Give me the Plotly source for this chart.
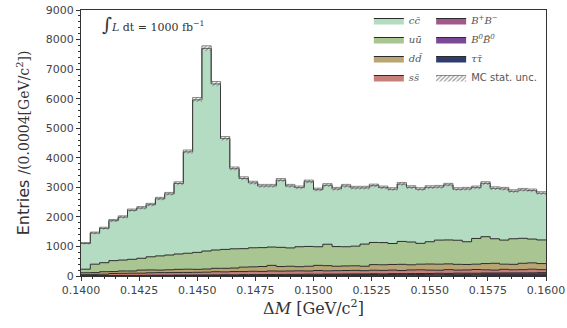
import numpy as np
import plotly.graph_objects as go

# ---------------- data ----------------
bin_lo, bin_w, n_bins = 0.1400, 0.0004, 50

tautau = [2,3,4,3,5,6,5,7,8,7,9,10,9,11,12,13,11,14,15,13,16,17,16,18,19,17,20,21,22,20,
          23,24,22,25,26,27,24,28,29,27,30,31,29,32,33,34,31,35,34,36]
b0b0 = [4,5,5,6,7,6,8,9,8,10,11,10,12,13,12,14,15,16,14,17,18,16,19,20,21,19,22,23,21,24,
        25,26,23,27,28,26,29,30,31,28,32,33,30,34,35,33,36,37,35,38]
bpbm = [5,6,6,7,8,9,8,10,11,10,12,13,14,12,15,16,14,17,18,19,17,20,21,19,22,23,24,21,25,26,
        24,27,28,29,26,30,31,28,32,33,34,31,35,36,33,37,38,35,39,40]
ssbar = [34,41,45,69,70,74,74,84,88,88,88,87,90,94,106,97,110,103,113,106,119,112,114,118,108,
         126,109,115,117,120,108,118,117,119,105,122,126,114,103,127,104,110,126,108,99,121,105,108,122,101]
ddbar = [65,60,85,65,80,75,105,95,85,95,105,110,100,105,115,120,120,150,150,165,190,155,160,140,160,
         175,175,150,155,155,150,190,190,190,210,175,190,205,205,195,195,185,180,210,230,175,185,215,215,205]
uubar = [120,285,305,370,370,395,400,445,480,500,520,540,575,610,620,640,650,625,645,640,620,650,620,675,670,
         630,725,665,650,665,750,750,750,710,775,770,705,755,815,810,815,770,870,910,830,815,865,845,805,800]
ccbar = [870,1050,1160,1350,1450,1655,1700,1760,1930,2065,2385,3430,5160,6855,5620,3750,2710,2375,2195,2085,
         2065,2270,2095,2000,2190,1930,1995,1950,2055,1970,1900,1920,1860,1835,1940,1850,1830,1840,1795,1860,
         1725,1785,1720,1805,1705,1730,1605,1635,1640,1580]
mc_unc = [33,38,40,43,45,47,48,49,51,53,56,65,77,88,81,68,60,57,56,55,55,57,55,55,56,54,55,54,55,55,
          55,55,55,54,56,55,54,55,55,55,54,54,55,56,54,54,54,54,54,53]

# stacking order: bottom -> top
components = [
    ("ττ̄", tautau, "#2f3c6e", "legend2", 3),
    ("B<sup>0</sup>B̄<sup>0</sup>", b0b0, "#7a4996", "legend2", 2),
    ("B<sup>+</sup>B<sup>−</sup>", bpbm, "#a4578a", "legend2", 1),
    ("ss̄", ssbar, "#c78079", "legend", 4),
    ("dd̄", ddbar, "#b9a573", "legend", 3),
    ("uū", uubar, "#a9c591", "legend", 2),
    ("cc̄", ccbar, "#b3dcc3", "legend", 1),
]

edges = bin_lo + bin_w * np.arange(n_bins + 1)

def step(v):
    v = list(v)
    return v + [v[-1]]

fig = go.Figure()
cum = np.zeros(n_bins)
for i, (name, vals, col, lg, rank) in enumerate(components):
    cum = cum + np.array(vals, dtype=float)
    fig.add_trace(go.Scatter(
        x=edges, y=step(cum), mode="lines", line_shape="hv",
        line=dict(color="#2b2b2b", width=1),
        fill="tozeroy" if i == 0 else "tonexty", fillcolor=col,
        name=f"<i>{name}</i>", legend=lg, legendrank=rank, hoverinfo="skip",
    ))

total = cum
lo = total - np.array(mc_unc)
hi = total + np.array(mc_unc)
fig.add_trace(go.Scatter(x=edges, y=step(lo), mode="lines", line_shape="hv",
                         line=dict(color="rgba(0,0,0,0)", width=0), showlegend=False, hoverinfo="skip"))
fig.add_trace(go.Scatter(x=edges, y=step(hi), mode="lines", line_shape="hv",
                         line=dict(color="#444444", width=0.6),
                         fill="tonexty", fillcolor="rgba(0,0,0,0)",
                         fillpattern=dict(shape="/", fgcolor="#333333", bgcolor="rgba(255,255,255,0.3)",
                                          size=3, solidity=0.4),
                         name="<span style='font-family:DejaVu Sans'>MC stat. unc.</span>",
                         legend="legend2", legendrank=4, hoverinfo="skip"))

axis_common = dict(showline=True, linecolor="#333333", linewidth=1, mirror=True, automargin=False,
                   ticks="outside", ticklen=4, tickcolor="#333333", showgrid=False, zeroline=False,
                   tickfont=dict(family="DejaVu Sans", size=11, color="#444444"))

legend_common = dict(xanchor="left", yanchor="top", bgcolor="rgba(255,255,255,0)",
                     borderwidth=0, itemwidth=30, tracegroupgap=0, traceorder="normal",
                     font=dict(family="DejaVu Serif", size=10, color="#555555"))

fig.update_layout(
    width=567, height=328,
    margin=dict(l=81, r=21, t=10, b=52, autoexpand=False),
    paper_bgcolor="white", plot_bgcolor="white",
    xaxis=dict(range=[0.14, 0.16], tickvals=[0.14 + 0.0025 * k for k in range(9)], tickformat=".4f",
               minor=dict(ticks="outside", ticklen=2, tickcolor="#333333", dtick=0.0005),
               title=dict(text="Δ<i>M</i> [GeV/c<sup>2</sup>]", standoff=4,
                          font=dict(family="DejaVu Serif", size=16, color="#333333")),
               **axis_common),
    yaxis=dict(range=[0, 9000], dtick=1000, tickformat="d",
               minor=dict(ticks="outside", ticklen=2, tickcolor="#333333", dtick=200),
               title=dict(text="Entries <span style='font-family:DejaVu Serif;font-size:14px'>/(0.0004[GeV/c<sup>2</sup>])</span>",
                          standoff=12, font=dict(family="DejaVu Sans", size=16, color="#333333")),
               **axis_common),
    legend=dict(x=0.619, y=1.015, **legend_common),
    legend2=dict(x=0.753, y=1.015, **legend_common),
    annotations=[dict(x=0.04, y=0.948, xref="paper", yref="paper", xanchor="left", yanchor="middle",
                      showarrow=False,
                      text="<span style='font-size:19px'>∫</span><i>L</i> dt = 1000 fb<sup>−1</sup>",
                      font=dict(family="DejaVu Serif", size=11, color="#333333"))],
)

fig.write_html("out.html", config={"displayModeBar": False},
               post_script="document.body.style.margin='0';document.body.style.overflow='hidden';")
